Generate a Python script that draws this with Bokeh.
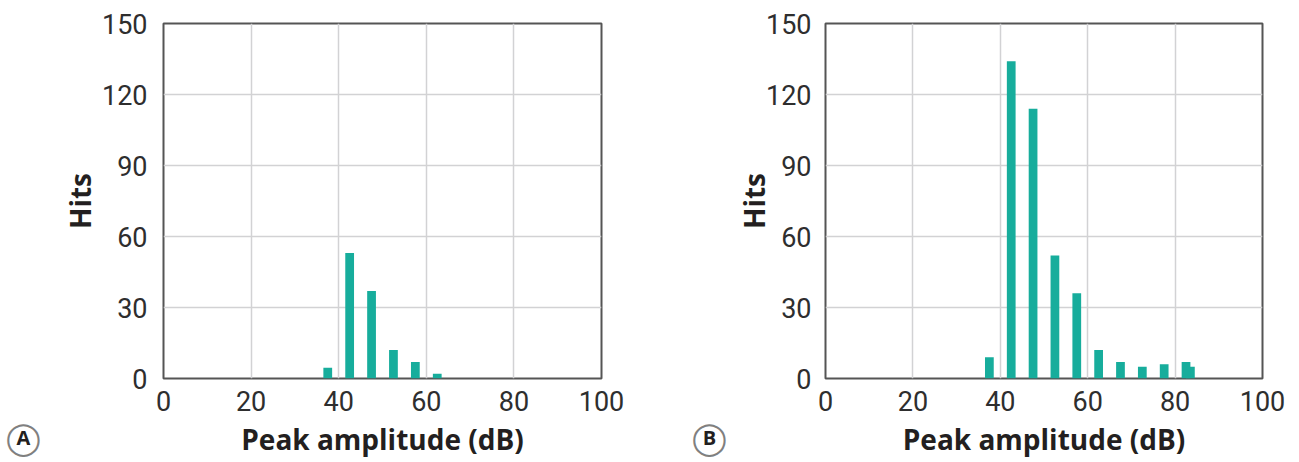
from bokeh.plotting import figure
from bokeh.layouts import row
from bokeh.models import Label, FixedTicker, Range1d, Plot
from bokeh.embed import file_html
from bokeh.resources import INLINE

# ---- data ----
bins_a = [37.5, 42.5, 47.5, 52.5, 57.5, 62.5]
hits_a = [4.5, 53, 37, 12, 7, 2]

bins_b = [37.5, 42.5, 47.5, 52.5, 57.5, 62.5, 67.5, 72.5, 77.5, 83.5, 82.5]
hits_b = [9, 134, 114, 52, 36, 12, 7, 5, 6, 5, 7]

x_ticks = [0, 20, 40, 60, 80, 100]
y_ticks = [0, 30, 60, 90, 120, 150]
x_label = "Peak amplitude (dB)"
y_label = "Hits"
panel_tags = ["A", "B"]

BAR = "#17ad9c"
TICK_FONT = "Roboto"
LABEL_FONT = "Open Sans"
H = 460
HAS_FRAME_ALIGN = "frame_align" in Plot.properties()


def make_tag(tag, width, cx, cy):
    """Narrow blank strip holding the circled panel letter."""
    kw = dict(width=width, height=H, output_backend="svg", toolbar_location=None,
              x_range=Range1d(0, 1), y_range=Range1d(0, 1),
              min_border=0, min_border_left=0, min_border_right=0,
              min_border_top=0, min_border_bottom=0)
    if HAS_FRAME_ALIGN:
        t = figure(x_axis_location=None, y_axis_location=None, **kw)
        t.frame_align = False
        ring = Label(x=cx, y=H - cy, x_units="screen", y_units="screen", text="\u25ef",
                     text_font="DejaVu Sans", text_font_size="32px",
                     text_color="#808080", text_align="center", text_baseline="middle")
        lab = Label(x=cx, y=H - cy, x_units="screen", y_units="screen", text=tag,
                    text_font=LABEL_FONT, text_font_style="bold", text_font_size="20px",
                    text_color="#231f20", text_align="center", text_baseline="middle")
        t.add_layout(ring)
        t.add_layout(lab)
    else:
        t = figure(y_axis_location=None, **kw)
        t.xaxis.ticker = FixedTicker(ticks=[])
        t.xaxis.axis_line_color = None
        t.xaxis.major_tick_line_color = None
        t.xaxis.minor_tick_line_color = None
        t.xaxis.axis_label = chr(0x24B6 + ord(tag) - ord("A"))
        t.xaxis.axis_label_text_font = "DejaVu Sans"
        t.xaxis.axis_label_text_font_size = "28px"
        t.xaxis.axis_label_text_font_style = "normal"
        t.xaxis.axis_label_standoff = 38
    t.outline_line_color = None
    t.xgrid.visible = False
    t.ygrid.visible = False
    t.background_fill_color = "white"
    t.border_fill_color = "white"
    return t


def make_panel(xs, ys, left, frame_w, right, tick_gap, label_gap):
    p = figure(width=left + frame_w + right, height=H, output_backend="svg",
               toolbar_location=None,
               x_range=Range1d(0, 100), y_range=Range1d(0, 150),
               min_border_left=left, min_border_right=right,
               min_border_top=23, min_border_bottom=79)
    p.vbar(x=xs, top=ys, width=2, bottom=0, color=BAR, line_color=None)
    p.xaxis.ticker = FixedTicker(ticks=x_ticks)
    p.yaxis.ticker = FixedTicker(ticks=y_ticks)
    p.xgrid.ticker = FixedTicker(ticks=x_ticks)
    p.ygrid.ticker = FixedTicker(ticks=y_ticks)
    for g in (p.xgrid, p.ygrid):
        g.grid_line_color = "#d2d2d4"
        g.grid_line_width = 1.5
    for ax in (p.xaxis, p.yaxis):
        ax.axis_line_color = None
        ax.major_tick_line_color = None
        ax.minor_tick_line_color = None
        ax.major_label_text_font = TICK_FONT
        ax.major_label_text_font_size = "27px"
        ax.major_label_text_color = "#2e2e2e"
        ax.axis_label_text_font = LABEL_FONT
        ax.axis_label_text_font_style = "bold"
        ax.axis_label_text_font_size = "28px"
        ax.axis_label_text_color = "#231f20"
    p.xaxis.major_label_standoff = 6
    p.yaxis.major_label_standoff = tick_gap
    p.xaxis.axis_label = x_label
    p.yaxis.axis_label = y_label
    p.xaxis.axis_label_standoff = 6
    p.yaxis.axis_label_standoff = label_gap
    p.outline_line_color = "#555555"
    p.outline_line_width = 2
    p.outline_line_alpha = 1
    p.background_fill_color = "white"
    p.border_fill_color = "white"
    return p


tag_a = make_tag(panel_tags[0], 46, 23, 437)
pa = make_panel(bins_a, hits_a, 117, 438, 48, 10, 0)     # frame 163..601
tag_b = make_tag(panel_tags[1], 80, 60, 437)              # strip 649..729
pb = make_panel(bins_b, hits_b, 96, 437, 35, 8, -10)     # frame 825..1262
layout = row(tag_a, pa, tag_b, pb)
open("out.html", "w").write(file_html(layout, INLINE))
